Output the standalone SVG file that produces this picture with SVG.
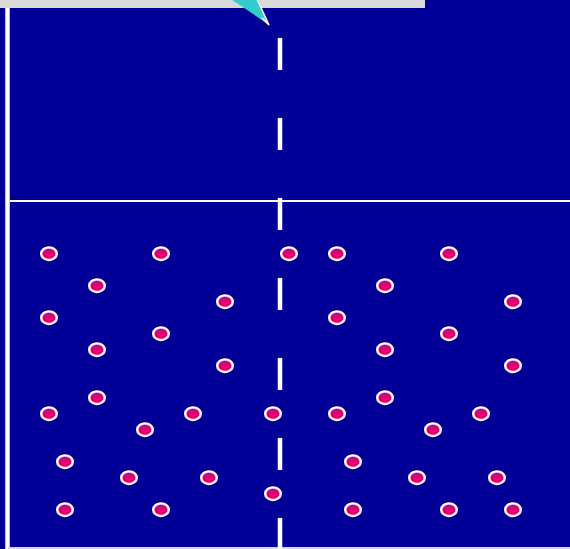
<svg xmlns="http://www.w3.org/2000/svg" width="570" height="549" viewBox="0 0 570 549">
<style>
.dot{fill:#dd0077;stroke:#ffffff;stroke-width:2.4}
.ln{stroke:#ffffff;fill:none}
</style>
<defs>
<ellipse id="e" cx="0" cy="0" rx="7.8" ry="6.3" class="dot"/>
</defs>
<rect id="bg" x="0" y="0" width="570" height="549" fill="#000099"/>
<rect id="topbar" x="0" y="0" width="425" height="8" fill="#d9d9d9"/>
<g id="frame">
<line class="ln" x1="7.5" y1="8" x2="7.5" y2="549" stroke-width="4.5"/>
<line class="ln" x1="10" y1="201" x2="570" y2="201" stroke-width="2"/>
<line x1="8" y1="548" x2="570" y2="548" stroke="#d4d4f6" stroke-width="2"/>
<line class="ln" x1="280" y1="38" x2="280" y2="549" stroke-width="4.5" stroke-dasharray="32 48"/>
</g>
<g id="pointer">
<polygon points="228,-3 257,-3 269,25" fill="#33cccc"/>
<polyline points="256,-3 269,25 262,18" fill="none" stroke="#ffffff" stroke-width="1.5"/>
</g>
<g id="dots">
<use href="#e" x="49" y="253.7"/><use href="#e" x="161" y="253.7"/><use href="#e" x="289" y="253.7"/><use href="#e" x="337" y="253.7"/><use href="#e" x="449" y="253.7"/>
<use href="#e" x="97" y="285.7"/><use href="#e" x="385" y="285.7"/>
<use href="#e" x="225" y="301.7"/><use href="#e" x="513" y="301.7"/>
<use href="#e" x="49" y="317.7"/><use href="#e" x="337" y="317.7"/>
<use href="#e" x="161" y="333.7"/><use href="#e" x="449" y="333.7"/>
<use href="#e" x="97" y="349.7"/><use href="#e" x="385" y="349.7"/>
<use href="#e" x="225" y="365.7"/><use href="#e" x="513" y="365.7"/>
<use href="#e" x="97" y="397.7"/><use href="#e" x="385" y="397.7"/>
<use href="#e" x="49" y="413.7"/><use href="#e" x="193" y="413.7"/><use href="#e" x="273" y="413.7"/><use href="#e" x="337" y="413.7"/><use href="#e" x="481" y="413.7"/>
<use href="#e" x="145" y="429.7"/><use href="#e" x="433" y="429.7"/>
<use href="#e" x="65" y="461.7"/><use href="#e" x="353" y="461.7"/>
<use href="#e" x="129" y="477.7"/><use href="#e" x="209" y="477.7"/><use href="#e" x="417" y="477.7"/><use href="#e" x="497" y="477.7"/>
<use href="#e" x="273" y="493.7"/>
<use href="#e" x="65" y="509.7"/><use href="#e" x="161" y="509.7"/><use href="#e" x="353" y="509.7"/><use href="#e" x="449" y="509.7"/><use href="#e" x="513" y="509.7"/>
</g>
</svg>
